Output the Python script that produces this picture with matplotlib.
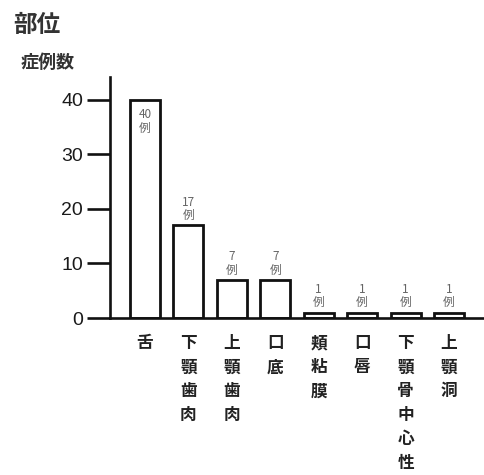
import matplotlib
matplotlib.use("Agg")
import matplotlib.pyplot as plt

plt.rcParams['font.family'] = ['Noto Sans CJK JP', 'DejaVu Sans']

# 部位別の症例数
sites = ["舌", "下顎歯肉", "上顎歯肉", "口底", "頬粘膜", "口唇", "下顎骨中心性", "上顎洞"]
counts = [40, 17, 7, 7, 1, 1, 1, 1]
yticks = [0, 10, 20, 30, 40]

fig = plt.figure(figsize=(4.85, 4.75), dpi=100)
ax = fig.add_axes([0.2268, 0.3305, 0.7732, 0.5075])

x = list(range(len(sites)))
ax.bar(x, counts, width=0.69, color='white', edgecolor='#111111', linewidth=2.0)

ax.set_xlim(-0.806, 7.83)
ax.set_ylim(0, 44.2)

for s in ['top', 'right']:
    ax.spines[s].set_visible(False)
for s in ['left', 'bottom']:
    ax.spines[s].set_linewidth(1.9)
    ax.spines[s].set_color('#111111')

ax.set_xticks([])
ax.set_yticks(yticks)
ax.tick_params(axis='y', length=16.5, width=1.9, pad=3, labelsize=14,
               color='#111111', labelcolor='#1a1a1a')
for lab in ax.get_yticklabels():
    lab.set_family(['Liberation Sans', 'DejaVu Sans'])

# 棒の注記（症例数）
for xi, c in zip(x, counts):
    txt = f"{c}\n例"
    if c == max(counts):
        ax.text(xi, c - 1.5, txt, ha='center', va='top', fontsize=8.5,
                color='#666666', linespacing=1.05)
    else:
        ax.text(xi, c + 0.6, txt, ha='center', va='bottom', fontsize=8.5,
                color='#666666', linespacing=1.05)

# 縦書きのカテゴリ名
for xi, name in zip(x, sites):
    ax.text(xi, -3.0, "\n".join(name), ha='center', va='top', fontsize=12,
            color='#222222', linespacing=1.43, fontweight='bold')

fig.text(0.028, 0.972, "部位", fontsize=17, fontweight='bold', color='#333333',
         va='top', ha='left')
fig.text(0.043, 0.888, "症例数", fontsize=13, fontweight='bold', color='#333333',
         va='top', ha='left')

fig.savefig("out.png", dpi=100)
